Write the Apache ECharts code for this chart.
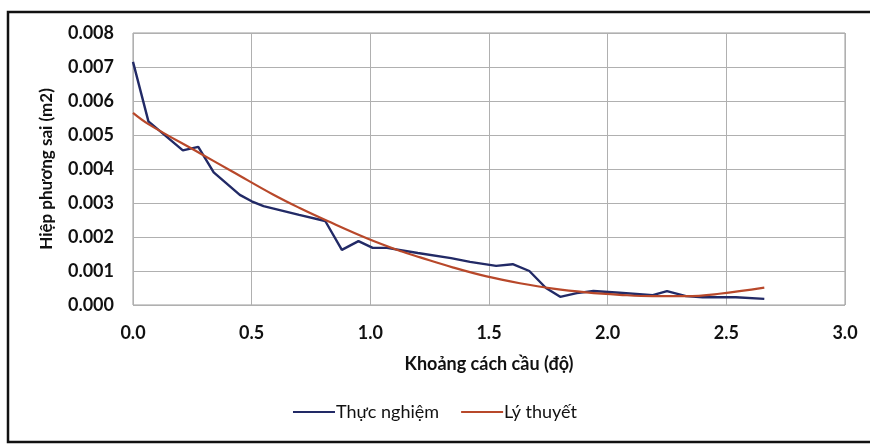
<!DOCTYPE html>
<html>
<head>
<meta charset="utf-8">
<script src="https://cdn.jsdelivr.net/npm/echarts@6/dist/echarts.min.js"></script>
<style>
html,body{margin:0;padding:0;background:#ffffff;}
#chart{width:870px;height:444px;}
</style>
</head>
<body>
<div id="chart"></div>
<script>
// Distance (degrees) and covariance values
const expX = [0.00, 0.065, 0.21, 0.275, 0.34, 0.45, 0.50, 0.55, 0.70, 0.81, 0.88, 0.95, 1.01, 1.07, 1.20, 1.34, 1.42, 1.53, 1.60, 1.67, 1.74, 1.80, 1.87, 1.94, 2.05, 2.19, 2.25, 2.33, 2.40, 2.54, 2.66];
const expY = [0.00715, 0.0054, 0.00455, 0.00465, 0.0039, 0.00324, 0.00305, 0.00291, 0.00265, 0.00247, 0.00162, 0.00188, 0.00168, 0.00168, 0.00153, 0.00138, 0.00127, 0.00115, 0.0012, 0.0010, 0.0005, 0.00024, 0.00035, 0.00041, 0.00036, 0.00029, 0.00041, 0.00026, 0.00023, 0.00023, 0.00018];
const theoX = [0.00, 0.065, 0.28, 0.42, 0.59, 0.70, 0.82, 0.99, 1.13, 1.21, 1.35, 1.49, 1.63, 1.77, 1.91, 2.05, 2.19, 2.33, 2.47, 2.66];
const theoY = [0.00565, 0.00532, 0.00447, 0.00392, 0.00325, 0.00286, 0.00247, 0.00195, 0.00158, 0.00140, 0.00110, 0.00084, 0.00064, 0.00048, 0.00037, 0.00030, 0.00026, 0.00026, 0.00033, 0.00051];
const xTicks = [0, 0.5, 1.0, 1.5, 2.0, 2.5, 3.0];
const yTicks = [0, 0.001, 0.002, 0.003, 0.004, 0.005, 0.006, 0.007, 0.008];
const seriesNames = ['Thực nghiệm', 'Lý thuyết'];
const xTitle = 'Khoảng cách cầu (độ)';
const yTitle = 'Hiệp phương sai (m2)';

const pair = (xs, ys) => xs.map((x, i) => [x, ys[i]]);
const FONT = 'Lato, "Open Sans", sans-serif';

const chart = echarts.init(document.getElementById('chart'), null, {renderer: 'canvas'});
chart.setOption({
  backgroundColor: '#ffffff',
  animation: false,
  textStyle: {fontFamily: FONT},
  grid: {left: 133, right: 25, top: 33, bottom: 139, show: true, borderColor: '#9a9a9a', borderWidth: 1},
  legend: {
    bottom: 18, left: 'center', itemGap: 22,
    icon: 'rect', itemWidth: 42, itemHeight: 2,
    textStyle: {fontSize: 18, color: '#111', fontFamily: FONT, padding: [0, 0, 0, -4]},
    data: seriesNames
  },
  xAxis: {
    type: 'value', min: xTicks[0], max: xTicks[xTicks.length - 1], interval: 0.5,
    name: xTitle, nameLocation: 'middle', nameGap: 50,
    nameTextStyle: {fontSize: 18, fontWeight: 'bold', color: '#111', fontFamily: FONT},
    axisLine: {show: false}, axisTick: {show: false},
    axisLabel: {margin: 19, fontSize: 18, fontWeight: 'bold', color: '#111', formatter: v => v.toFixed(1)},
    splitLine: {show: true, lineStyle: {color: '#b0b0b0', width: 1}}
  },
  yAxis: {
    type: 'value', min: yTicks[0], max: yTicks[yTicks.length - 1], interval: 0.001,
    name: yTitle, nameLocation: 'middle', nameGap: 78, nameRotate: 90,
    nameTextStyle: {fontSize: 17, fontWeight: 'bold', color: '#111', fontFamily: FONT},
    axisLine: {show: false}, axisTick: {show: false},
    axisLabel: {margin: 19, fontSize: 18, fontWeight: 'bold', color: '#111', formatter: v => v.toFixed(3)},
    splitLine: {show: true, lineStyle: {color: '#b0b0b0', width: 1}}
  },
  series: [
    {name: seriesNames[0], type: 'line', data: pair(expX, expY), showSymbol: false, symbol: 'none',
     lineStyle: {color: '#222a66', width: 2.4}, itemStyle: {color: '#222a66'}},
    {name: seriesNames[1], type: 'line', data: pair(theoX, theoY), showSymbol: false, symbol: 'none', smooth: 0.4,
     lineStyle: {color: '#b8482a', width: 2.2}, itemStyle: {color: '#b8482a'}}
  ],
  graphic: [
    {type: 'rect', silent: true, shape: {x: 8, y: 12, width: 880, height: 430},
     style: {fill: null, stroke: '#111', lineWidth: 2.5}}
  ]
});
</script>
</body>
</html>
